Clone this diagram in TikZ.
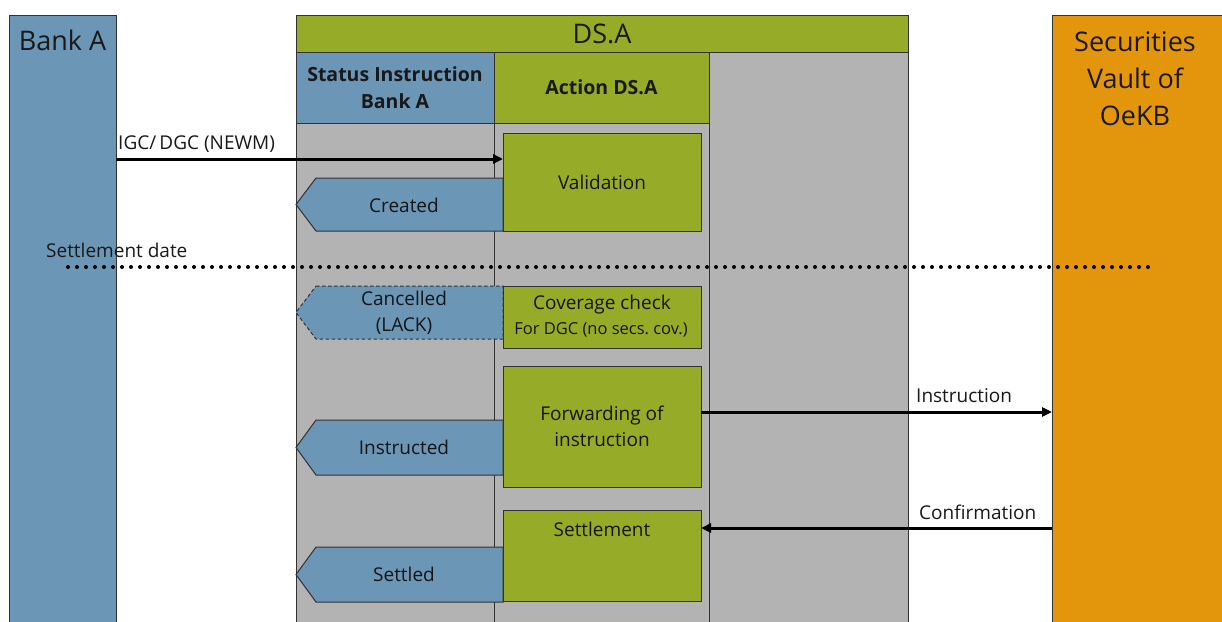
\documentclass[tikz,border=0pt]{standalone}
\usepackage{fontspec}
\setmainfont{Open Sans}
\usetikzlibrary{arrows.meta}

\definecolor{bankblue}{RGB}{108,150,181}
\definecolor{dsgreen}{RGB}{150,171,39}
\definecolor{lanegrey}{RGB}{179,179,179}
\definecolor{vaultorange}{RGB}{227,150,11}
\definecolor{edgegrey}{RGB}{50,50,50}
\definecolor{inkdark}{RGB}{25,25,25}

\tikzset{
  box/.style={draw=edgegrey, line width=1pt, anchor=north west,
              inner sep=0pt, outer sep=0pt},
  lanefill/.style={box, fill=lanegrey},
  bluefill/.style={box, fill=bankblue},
  greenfill/.style={box, fill=dsgreen},
  orangefill/.style={box, fill=vaultorange},
  divider/.style={draw=edgegrey, line width=1pt},
  chevron/.style={fill=bankblue, draw=edgegrey, line width=1pt},
  chevrondash/.style={chevron, dash pattern=on 3.5pt off 2.5pt},
  titletext/.style={font=\fontsize{27}{37}\selectfont, text=inkdark, align=center},
  headtext/.style={font=\bfseries\fontsize{19.5}{27}\selectfont, text=inkdark, align=center},
  boxtext/.style={font=\fontsize{19}{26}\selectfont, text=inkdark!85!black, align=center},
  notetext/.style={font=\fontsize{16.5}{18}\selectfont, text=inkdark!85!black},
  lbl/.style={font=\fontsize{19}{22}\selectfont, text=inkdark, anchor=west, inner sep=0pt},
  flow/.style={line width=3pt, -{Triangle[length=10pt,width=9pt]}},
  dotline/.style={line width=4pt, line cap=round, dash pattern=on 0pt off 9pt},
}

\begin{document}
\begin{tikzpicture}[x=1pt, y=-1pt]
  \clip (0,0) rectangle (1222,621);
  \fill[white] (0,0) rectangle (1222,621);

  % outer swimlanes
  \node[bluefill,   minimum width=107pt, minimum height=620pt] (bankA) at (9,15) {};
  \node[orangefill, minimum width=180pt, minimum height=620pt] (vault) at (1052,15) {};
  \node[lanefill,   minimum width=612pt, minimum height=580pt] (dsLane) at (296,52) {};

  % DS.A header and its two sub-lane headers
  \node[greenfill, minimum width=612pt, minimum height=37pt] (dsHead) at (296,15) {};
  \node[bluefill, minimum width=198pt, minimum height=71pt, headtext] (statusHead) at (296,52)
       {Status Instruction\\Bank A};
  \node[greenfill, minimum width=215pt, minimum height=71pt, headtext] (actionHead) at (494,52)
       {Action DS.A};
  \draw[divider] (statusHead.south east) -- (statusHead.south east |- dsLane.south);
  \draw[divider] (actionHead.north east) -- (actionHead.north east |- dsLane.south);

  % lane titles
  \node[titletext] (bankTitle)  at (62.5,40) {Bank A};
  \node[titletext] (dsTitle)    at (dsHead.center) {DS.A};
  \node[titletext] (vaultTitle) at (1135,79) {Securities\\Vault of\\OeKB};

  % settlement date marker
  \coordinate (sdLeft)  at (68,267);
  \coordinate (sdRight) at (1148,267);
  \draw[dotline] (sdLeft) -- (sdRight);
  \node[lbl] (sdLabel) at (46,250) {Settlement date};

  % status chevrons (pointing back to Bank A)
  \path[chevron]     (316,178) -- (503,178) -- (503,231) -- (316,231) -- (296,204.5) -- cycle;
  \node[boxtext] (created) at (404,205) {Created};

  \path[chevrondash] (316,286) -- (503,286) -- (503,339) -- (316,339) -- (296,312.5) -- cycle;
  \node[boxtext] (cancelled) at (404,312.5) {Cancelled\\(LACK)};

  \path[chevron]     (316,420) -- (503,420) -- (503,475) -- (316,475) -- (296,447.5) -- cycle;
  \node[boxtext] (instructed) at (404,447.5) {Instructed};

  \path[chevron]     (316,547) -- (503,547) -- (503,602) -- (316,602) -- (296,574.5) -- cycle;
  \node[boxtext] (settled) at (404,574.5) {Settled};

  % actions of DS.A
  \node[greenfill, minimum width=198pt, minimum height=98pt, boxtext] (valid) at (503,133)
       {Validation};
  \node[greenfill, minimum width=198pt, minimum height=62pt] (coverage) at (503,286) {};
  \node[boxtext] (coverTitle) at (602,305) {Coverage check};
  \node[notetext] (coverNote) at (601,330) {For DGC (no secs.\ cov.)};
  \node[greenfill, minimum width=198pt, minimum height=121pt, boxtext] (fwd) at (503,366)
       {Forwarding of\\instruction};
  \node[greenfill, minimum width=198pt, minimum height=91pt] (settle) at (503,510) {};
  \node[boxtext] (settleTitle) at (602,529) {Settlement};

  % message flows
  \coordinate (igcY)  at (0,159);
  \coordinate (insY)  at (0,412);
  \coordinate (confY) at (0,528);
  \draw[flow] (bankA.east |- igcY) -- (valid.west |- igcY);
  \node[lbl] (igcLabel) at (118,144) {IGC/\,DGC (NEWM)};
  \draw[flow] (fwd.east |- insY) -- (vault.west |- insY);
  \node[lbl] (insLabel) at (916,396) {Instruction};
  \draw[flow] (vault.west |- confY) -- (settle.east |- confY);
  \node[lbl] (confLabel) at (919,512.5) {Confirmation};
\end{tikzpicture}
\end{document}
